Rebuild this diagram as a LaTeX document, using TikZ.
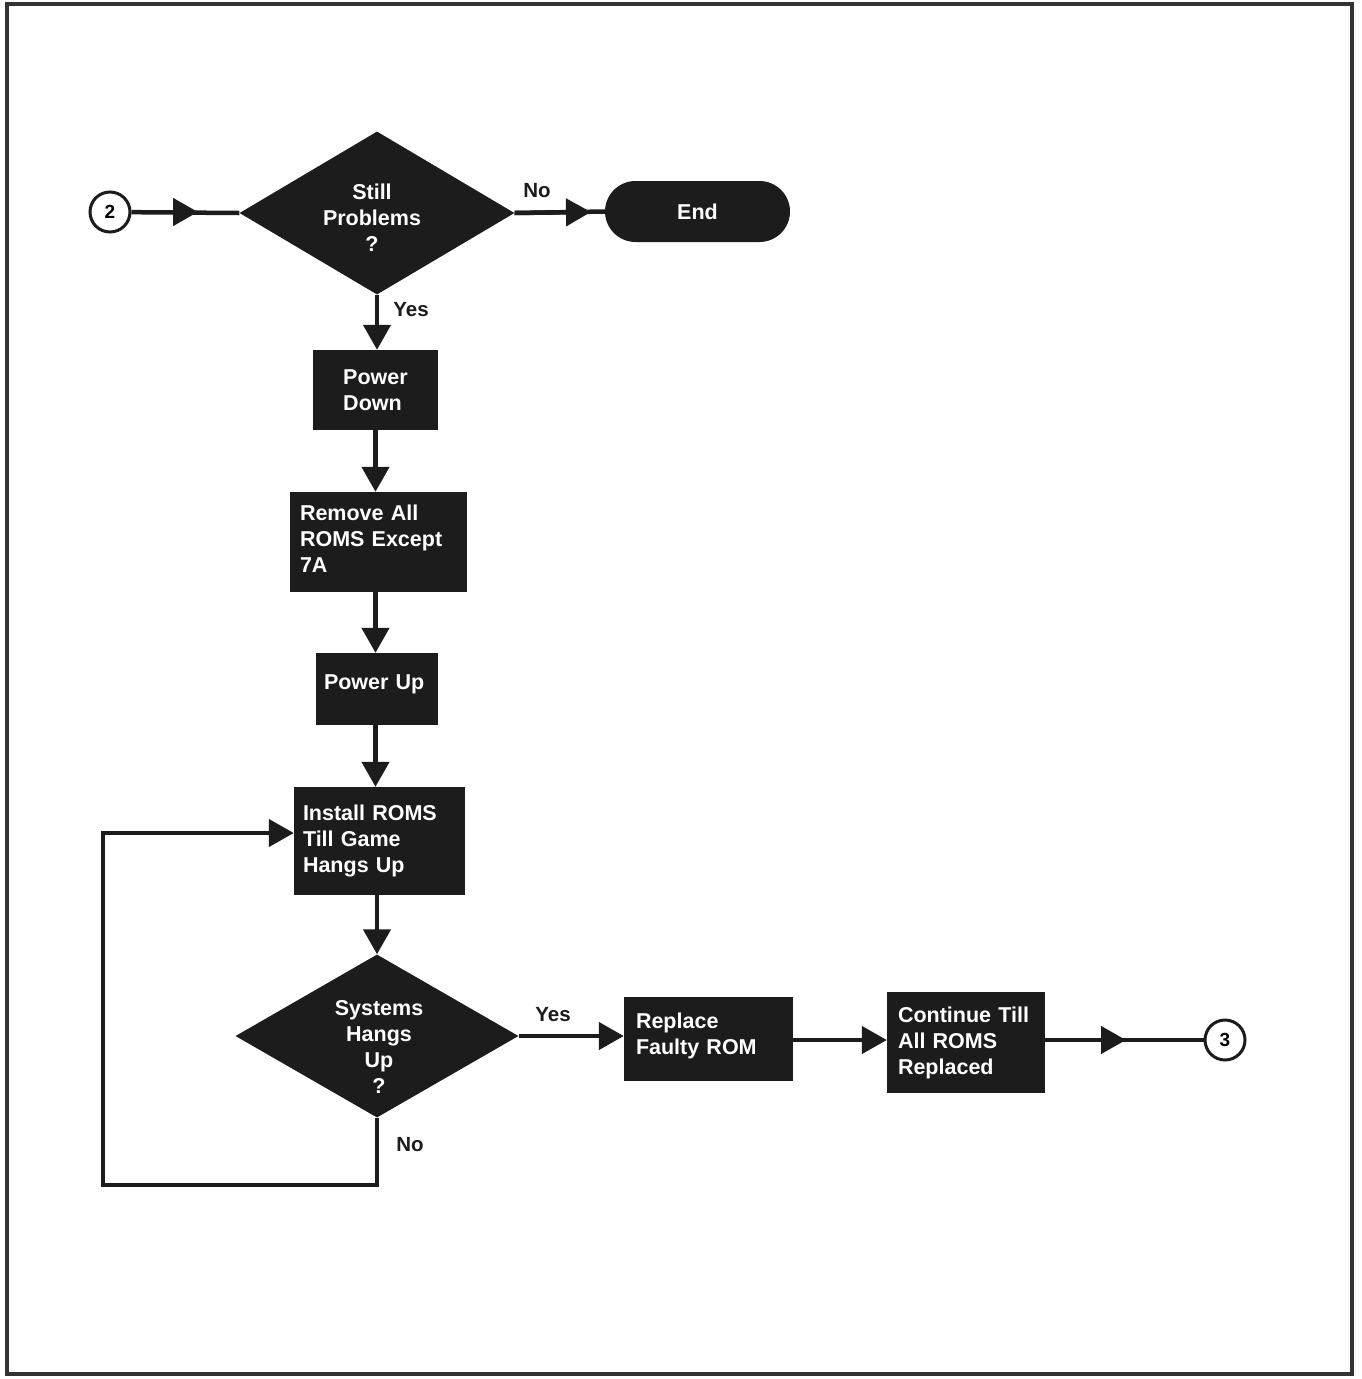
\documentclass[tikz,border=0pt]{standalone}
\usepackage{fontspec}
\setmainfont{Liberation Sans}
\usetikzlibrary{shapes.geometric,arrows.meta}
\definecolor{ink}{HTML}{1C1C1C}
\definecolor{frame}{HTML}{333333}
\begin{document}
\begin{tikzpicture}[x=1pt,y=-1pt,
  txt/.style={font=\bfseries\fontsize{21.5}{26}\selectfont},
  box/.style={rectangle, fill=ink, text=white, txt, align=left, inner sep=0pt},
  dia/.style={diamond, fill=ink, inner sep=0pt},
  diatext/.style={text=white, txt, align=center, inner sep=0pt},
  conn/.style={draw=ink, line width=4.5pt, line join=miter},
  arr/.style={conn, -{Triangle[length=25pt,width=27pt]}},
  lbl/.style={text=ink, font=\bfseries\fontsize{20.5}{24}\selectfont, inner sep=0pt},
  term/.style={circle, draw=ink, line width=3pt, fill=white, minimum size=40pt, inner sep=0pt, font=\bfseries\fontsize{19}{21}\selectfont}
]
\useasboundingbox (0,0) rectangle (1361,1379);
\fill[white] (0,0) rectangle (1361,1379);
\draw[frame, line width=4pt] (7,4) rectangle (1352,1374);

% nodes
\node[term] (c2) at (110,212) {2};
\node[dia, minimum width=275pt, minimum height=163pt] (d1) at (377,213) {};
\node[diatext] (d1t) at (372,218) {Still\\Problems\\?};
\node[rectangle, fill=ink, text=white, txt, rounded corners=30.5pt, minimum width=185pt, minimum height=61pt, inner sep=0pt] (end) at (697.5,211.5) {End};
\node[box, minimum width=125pt, minimum height=80pt] (pd) at (375.5,390) {Power\\Down};
\node[box, minimum width=177pt, minimum height=100pt, text width=157pt, text depth=58pt] (rem) at (378.5,542) {Remove All\\ROMS Except\\7A};
\node[box, minimum width=122pt, minimum height=72pt, text width=106pt, text depth=14pt] (pu) at (377,689) {Power Up};
\node[box, minimum width=171pt, minimum height=108pt, text width=153pt] (ins) at (379.5,841) {Install ROMS\\Till Game\\Hangs Up};
\node[dia, minimum width=283pt, minimum height=163pt] (d2) at (377,1036) {};
\node[diatext] (d2t) at (379,1047) {Systems\\Hangs\\Up\\?};
\node[box, minimum width=169pt, minimum height=84pt, text width=145pt, text depth=36.5pt] (rep) at (708.5,1039) {Replace\\Faulty ROM};
\node[box, minimum width=158pt, minimum height=101pt, text width=136pt] (cont) at (966,1042.5) {Continue Till\\All ROMS\\Replaced};
\node[term] (c3) at (1225,1040) {3};

% labels
\node[lbl] (lno1) at (537,191) {No};
\node[lbl] (lyes1) at (411,310) {Yes};
\node[lbl] (lyes2) at (553,1015) {Yes};
\node[lbl] (lno2) at (410,1145) {No};

% mid-line arrow tips
\coordinate (a1) at (198,212);
\coordinate (a2) at (591,212);
\coordinate (a3) at (1126,1040);
\coordinate (lp) at (103,1185);

% connectors
\draw[conn] (c2) -- (d1.west);
\draw[arr] (c2) -- (a1);
\draw[conn] (d1.east) -- (end.west);
\draw[arr] (d1.east) -- (a2);
\draw[arr] (d1.south) -- (d1.south |- pd.north);
\draw[arr] (pd.south) -- (pd.south |- rem.north);
\draw[arr] (rem.south -| pd.south) -- (pd.south |- pu.north);
\draw[arr] (pu.south -| pd.south) -- (pd.south |- ins.north);
\draw[arr] (ins.south -| d2.north) -- (d2.north);
\draw[arr] (d2.east) -- (d2.east -| rep.west);
\draw[arr] (rep.east |- c3) -- (c3 -| cont.west);
\draw[conn] (cont.east |- c3) -- (c3.west);
\draw[arr] (cont.east |- c3) -- (a3);
\draw[arr] (d2.south) |- (lp) |- ([yshift=8pt]ins.west);
\end{tikzpicture}
\end{document}
